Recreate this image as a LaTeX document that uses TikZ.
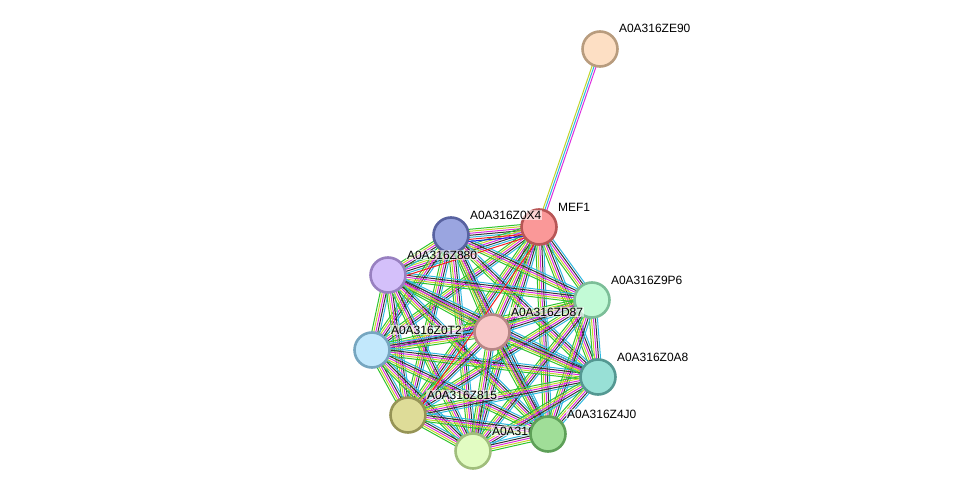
\documentclass[tikz,border=0pt]{standalone}
\usepackage{fontspec}
\setmainfont{Liberation Sans}
\usetikzlibrary{calc,backgrounds}

\definecolor{neighc}{HTML}{2EC42E}
\definecolor{tminec}{HTML}{C2D42A}
\definecolor{experc}{HTML}{DD2EDD}
\definecolor{coexpc}{HTML}{333333}
\definecolor{dbasec}{HTML}{2EB8E0}
\definecolor{fusionc}{HTML}{F02020}
\definecolor{coocc}{HTML}{1E1EF0}

\tikzset{
  prot/.style={circle, minimum size=35pt, inner sep=0pt, line width=2.6pt},
  lab/.style={anchor=base west, inner sep=0.8pt, fill=white, fill opacity=0.6, text opacity=1, font=\fontsize{12}{14}\selectfont},
  neigh/.style={draw=neighc, line width=1pt},
  tmine/.style={draw=tminec, line width=1pt},
  exper/.style={draw=experc, line width=1pt},
  coexp/.style={draw=coexpc, line width=1pt},
  dbase/.style={draw=dbasec, line width=1pt},
  fusion/.style={draw=fusionc, line width=1pt},
  cooc/.style={draw=coocc, line width=1pt}
}

\begin{document}
\begin{tikzpicture}[x=1pt, y=-1pt]
            \useasboundingbox (0,0) rectangle (976,497);
% proteins and labels
            \node [prot, fill={rgb,255:red,253;green,223;blue,196}, draw={rgb,255:red,184;green,156;blue,126}] (ze90) at (600, 49) {};
            \node [lab] (ze90-l) at ($(ze90)+(18,-16)$) {A0A316ZE90};
            \node [prot, fill={rgb,255:red,250;green,152;blue,152}, draw={rgb,255:red,184;green,86;blue,86}] (mef1) at (539, 227) {};
            \node [lab] (mef1-l) at ($(mef1)+(18,-16)$) {MEF1};
            \node [prot, fill={rgb,255:red,154;green,165;blue,224}, draw={rgb,255:red,88;green,98;blue,160}] (z0x4) at (451, 235) {};
            \node [lab] (z0x4-l) at ($(z0x4)+(18,-16)$) {A0A316Z0X4};
            \node [prot, fill={rgb,255:red,212;green,192;blue,250}, draw={rgb,255:red,152;green,128;blue,192}] (z880) at (388, 275) {};
            \node [lab] (z880-l) at ($(z880)+(18,-16)$) {A0A316Z880};
            \node [prot, fill={rgb,255:red,194;green,250;blue,214}, draw={rgb,255:red,124;green,190;blue,152}] (z9p6) at (592, 300) {};
            \node [lab] (z9p6-l) at ($(z9p6)+(18,-16)$) {A0A316Z9P6};
            \node [prot, fill={rgb,255:red,194;green,232;blue,252}, draw={rgb,255:red,118;green,166;blue,192}] (z0t2) at (372, 350) {};
            \node [lab] (z0t2-l) at ($(z0t2)+(18,-16)$) {A0A316Z0T2};
            \node [prot, fill={rgb,255:red,248;green,200;blue,200}, draw={rgb,255:red,184;green,134;blue,134}] (zd87) at (492, 332) {};
            \node [lab] (zd87-l) at ($(zd87)+(18,-16)$) {A0A316ZD87};
            \node [prot, fill={rgb,255:red,152;green,224;blue,214}, draw={rgb,255:red,84;green,152;blue,146}] (z0a8) at (598, 377) {};
            \node [lab] (z0a8-l) at ($(z0a8)+(18,-16)$) {A0A316Z0A8};
            \node [prot, fill={rgb,255:red,222;green,220;blue,152}, draw={rgb,255:red,150;green,148;blue,86}] (z815) at (408, 415) {};
            \node [lab] (z815-l) at ($(z815)+(18,-16)$) {A0A316Z815};
            \node [prot, fill={rgb,255:red,226;green,252;blue,194}, draw={rgb,255:red,160;green,190;blue,124}] (zbot) at (473, 451) {};
            \node [lab] (zbot-l) at ($(zbot)+(18,-16)$) {A0A316};
            \node [prot, fill={rgb,255:red,160;green,222;blue,152}, draw={rgb,255:red,94;green,160;blue,88}] (z4j0) at (548, 434) {};
            \node [lab] (z4j0-l) at ($(z4j0)+(18,-16)$) {A0A316Z4J0};

% evidence lines
            \begin{scope}[on background layer]
            \foreach \a [count=\i] in {mef1,z0x4,z880,z9p6,z0t2,zd87,z0a8,z815,zbot,z4j0} {
              \foreach \b [count=\j] in {mef1,z0x4,z880,z9p6,z0t2,zd87,z0a8,z815,zbot,z4j0} {
                \ifnum\j>\i
                  \foreach \s/\o in {neigh/-4, tmine/-2, exper/0, coexp/2, dbase/4}
                    \draw [\s] ($(\a.center)!\o pt!90:(\b.center)$) -- ($(\b.center)!\o pt!-90:(\a.center)$);
                \fi
              }
            }
% extra evidence
            \foreach \s/\o in {fusion/6, cooc/8}
              \draw [\s] ($(mef1.center)!\o pt!90:(z0x4.center)$) -- ($(z0x4.center)!\o pt!-90:(mef1.center)$);
            \draw [fusion] ($(mef1.center)!6pt!90:(z880.center)$) -- ($(z880.center)!6pt!-90:(mef1.center)$);
            \draw [fusion] ($(mef1.center)!6pt!90:(z815.center)$) -- ($(z815.center)!6pt!-90:(mef1.center)$);
% outlier
            \foreach \s/\o in {tmine/-2, dbase/0, exper/2}
              \draw [\s] ($(ze90.center)!\o pt!90:(mef1.center)$) -- ($(mef1.center)!\o pt!-90:(ze90.center)$);
            \end{scope}

\end{tikzpicture}
\end{document}
